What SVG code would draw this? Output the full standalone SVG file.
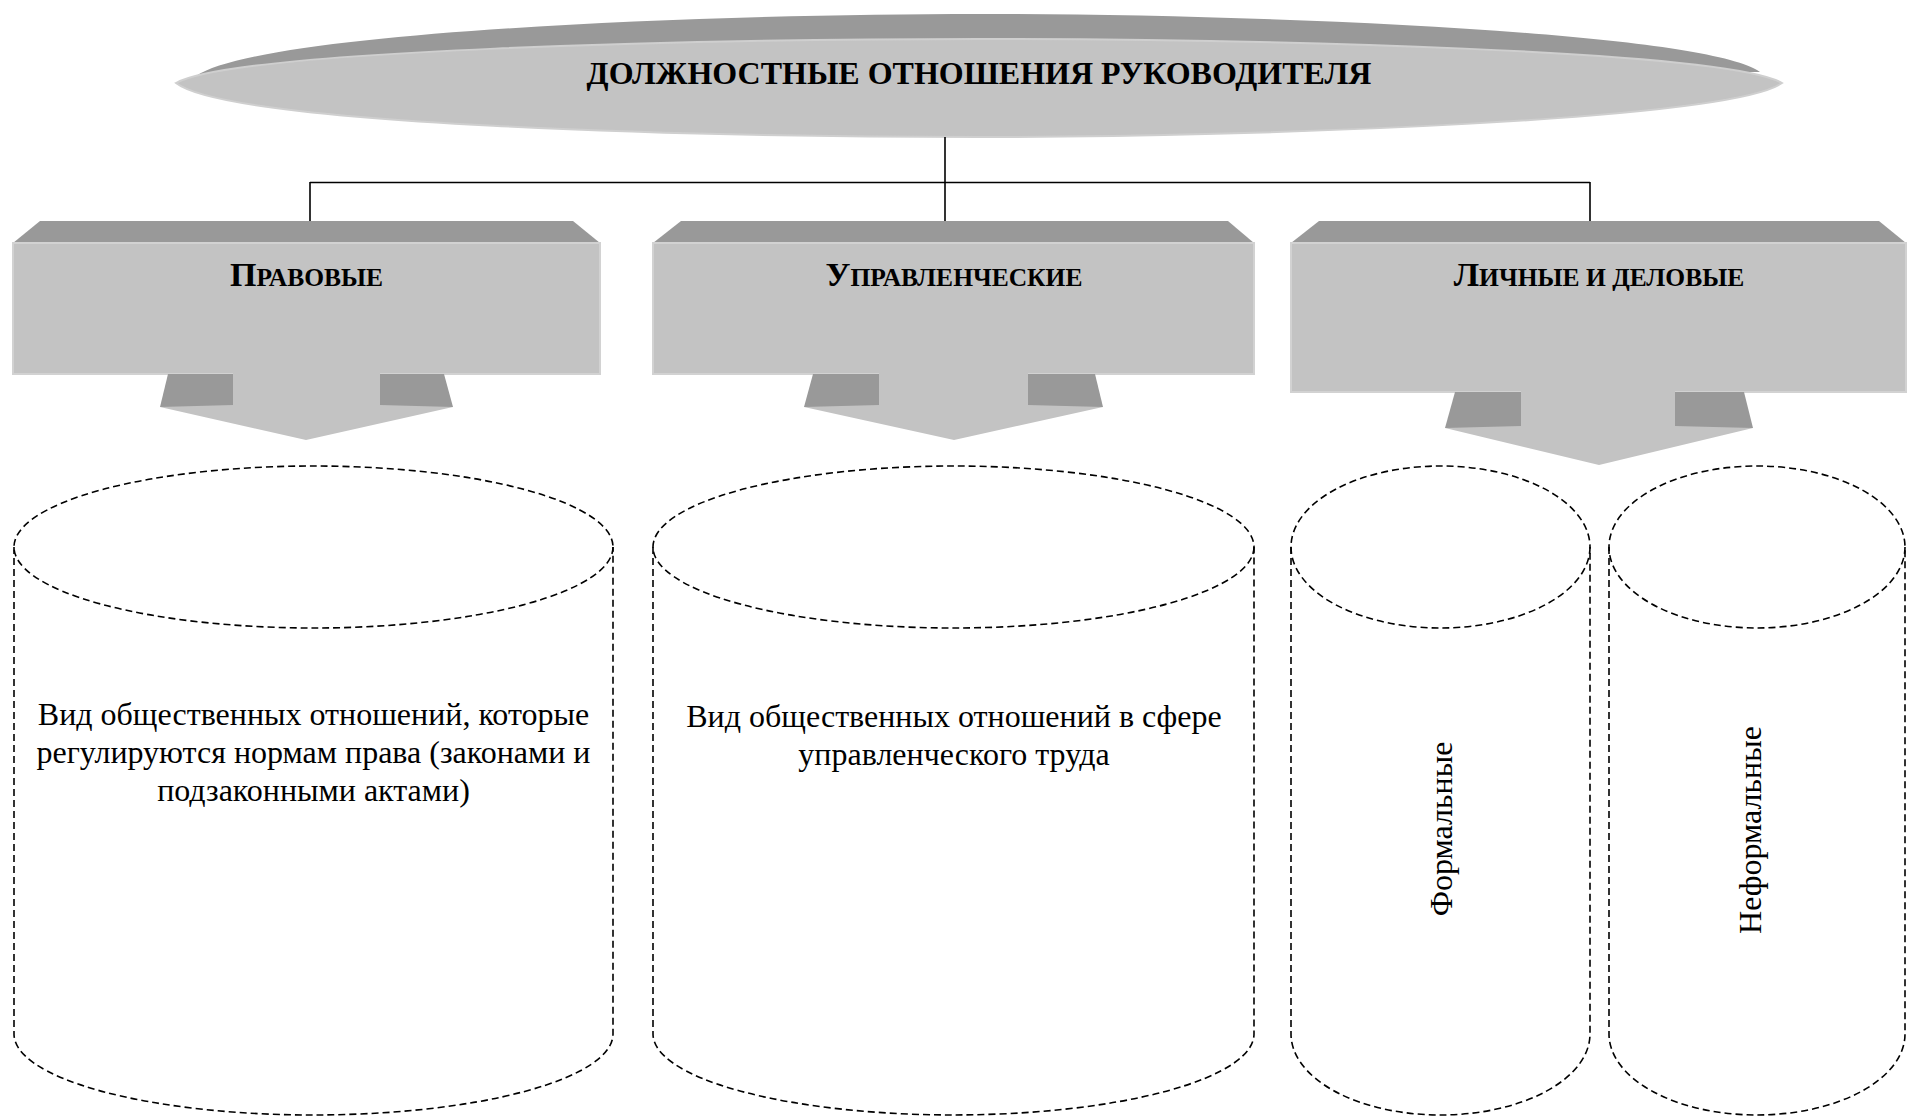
<svg xmlns="http://www.w3.org/2000/svg" width="1908" height="1118" viewBox="0 0 1908 1118">
<style>
.dark{fill:#999999}
.light{fill:#c3c3c3}
.face{fill:#c3c3c3;stroke:#d2d2d2;stroke-width:2}
.conn{stroke:#000;stroke-width:1.6;fill:none}
.cyl{fill:none;stroke:#000;stroke-width:1.6;stroke-dasharray:7 4}
.title{font-family:"Liberation Serif","Times New Roman",serif;font-weight:bold;font-size:32px;fill:#000}
.head{font-family:"Liberation Serif","Times New Roman",serif;font-weight:bold;font-size:25.5px;fill:#000}
.big{font-size:34px}
.body{font-family:"Liberation Serif","Times New Roman",serif;font-size:32px;fill:#000}
</style>
<rect width="1908" height="1118" fill="#fff"/>

<g id="title-node">
<path class="dark" d="M196,76 C260,32 700,14 979,14 C1260,14 1705,32 1760,72 L979,70 Z"/>
<path class="light" stroke="#cfcfcf" stroke-width="2" d="M176,83 C235,50 700,39 979,39 C1260,39 1725,50 1782,83 C1730,120 1260,137 979,137 C700,137 230,125 176,83 Z"/>
<text class="title" x="979" y="84" text-anchor="middle">ДОЛЖНОСТНЫЕ ОТНОШЕНИЯ РУКОВОДИТЕЛЯ</text>
</g>

<g id="connectors">
<line class="conn" x1="945" y1="137" x2="945" y2="221"/>
<line class="conn" x1="310" y1="182.5" x2="1590" y2="182.5"/>
<line class="conn" x1="310" y1="182" x2="310" y2="221"/>
<line class="conn" x1="1590" y1="182" x2="1590" y2="221"/>
</g>

<g id="node-pravovye">
<polygon class="dark" points="40,221 573,221 600,243 13,243"/>
<rect class="face" x="13" y="243" width="587" height="131"/>
<polygon class="dark" points="168,374 233,374 233,407 160,407"/>
<polygon class="dark" points="380,374 444,374 453,407 380,407"/>
<polygon class="light" points="233,372 380,372 380,405 453,407 306,440 160,407 233,405"/>
<text class="head" x="306.5" y="286" text-anchor="middle"><tspan class="big">П</tspan>РАВОВЫЕ</text>
</g>

<g id="node-upravlencheskie">
<polygon class="dark" points="681,221 1228,221 1254,243 653,243"/>
<rect class="face" x="653" y="243" width="601" height="131"/>
<polygon class="dark" points="813,374 879,374 879,407 804,407"/>
<polygon class="dark" points="1028,374 1095,374 1103,407 1028,407"/>
<polygon class="light" points="879,372 1028,372 1028,405 1103,407 954,440 804,407 879,405"/>
<text class="head" x="954" y="286" text-anchor="middle"><tspan class="big">У</tspan>ПРАВЛЕНЧЕСКИЕ</text>
</g>

<g id="node-lichnye">
<polygon class="dark" points="1319,221 1879,221 1906,243 1291,243"/>
<rect class="face" x="1291" y="243" width="615" height="149"/>
<polygon class="dark" points="1455,392 1521,392 1521,428 1445,428"/>
<polygon class="dark" points="1675,392 1744,392 1753,428 1675,428"/>
<polygon class="light" points="1521,390 1675,390 1675,426 1753,428 1599,465 1445,428 1521,426"/>
<text class="head" x="1599" y="286" text-anchor="middle"><tspan class="big">Л</tspan>ИЧНЫЕ И ДЕЛОВЫЕ</text>
</g>

<g id="cyl-pravovye">
<ellipse class="cyl" cx="313.5" cy="547" rx="299.5" ry="81"/>
<path class="cyl" d="M14,547 L14,1034 A299.5,81 0 0 0 613,1034 L613,547"/>
<text class="body" text-anchor="middle"><tspan x="313.5" y="725">Вид общественных отношений, которые</tspan><tspan x="313.5" y="763">регулируются нормам права (законами и</tspan><tspan x="313.5" y="801">подзаконными актами)</tspan></text>
</g>

<g id="cyl-upravlencheskie">
<ellipse class="cyl" cx="953.5" cy="547" rx="300.5" ry="81"/>
<path class="cyl" d="M653,547 L653,1034 A300.5,81 0 0 0 1254,1034 L1254,547"/>
<text class="body" text-anchor="middle"><tspan x="954" y="727">Вид общественных отношений в сфере</tspan><tspan x="954" y="765">управленческого труда</tspan></text>
</g>

<g id="cyl-formalnye">
<ellipse class="cyl" cx="1440.5" cy="547" rx="149.5" ry="81"/>
<path class="cyl" d="M1291,547 L1291,1034 A149.5,81 0 0 0 1590,1034 L1590,547"/>
<text class="body" text-anchor="middle" transform="translate(1452,829) rotate(-90)">Формальные</text>
</g>

<g id="cyl-neformalnye">
<ellipse class="cyl" cx="1757" cy="547" rx="148" ry="81"/>
<path class="cyl" d="M1609,547 L1609,1034 A148,81 0 0 0 1905,1034 L1905,547"/>
<text class="body" text-anchor="middle" transform="translate(1761,830) rotate(-90)">Неформальные</text>
</g>
</svg>
